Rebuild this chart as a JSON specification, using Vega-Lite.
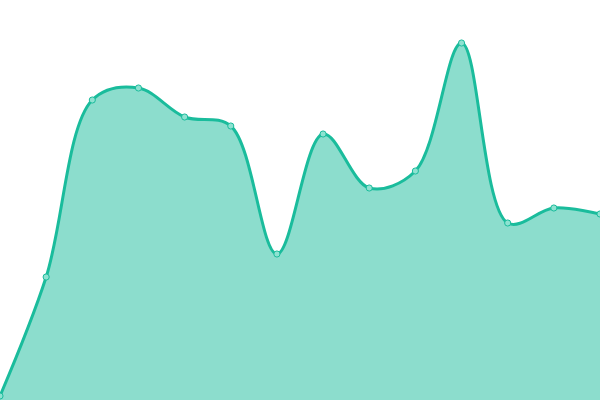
{
  "$schema": "https://vega.github.io/schema/vega-lite/v6.json",
  "width": 600,
  "height": 400,
  "padding": 0,
  "autosize": {"type": "none"},
  "config": {"view": {"stroke": null}},
  "data": {
    "values": [
      {"i": 0, "v": 4},
      {"i": 1, "v": 123},
      {"i": 2, "v": 300},
      {"i": 3, "v": 312},
      {"i": 4, "v": 283},
      {"i": 5, "v": 274},
      {"i": 6, "v": 146},
      {"i": 7, "v": 266},
      {"i": 8, "v": 212},
      {"i": 9, "v": 229},
      {"i": 10, "v": 357},
      {"i": 11, "v": 177},
      {"i": 12, "v": 192},
      {"i": 13, "v": 186}
    ]
  },
  "encoding": {
    "x": {"field": "i", "type": "quantitative", "scale": {"domain": [0, 13], "nice": false, "zero": false}, "axis": null},
    "y": {"field": "v", "type": "quantitative", "scale": {"domain": [0, 400], "nice": false}, "axis": null}
  },
  "layer": [
    {
      "mark": {"type": "area", "interpolate": "catmull-rom", "color": "#1abc9c", "opacity": 0.5}
    },
    {
      "mark": {"type": "line", "interpolate": "catmull-rom", "color": "#1abc9c", "strokeWidth": 3}
    },
    {
      "mark": {"type": "point", "filled": true, "size": 38, "fill": "#8ee2d1", "stroke": "#1abc9c", "strokeWidth": 1, "opacity": 1}
    }
  ]
}
